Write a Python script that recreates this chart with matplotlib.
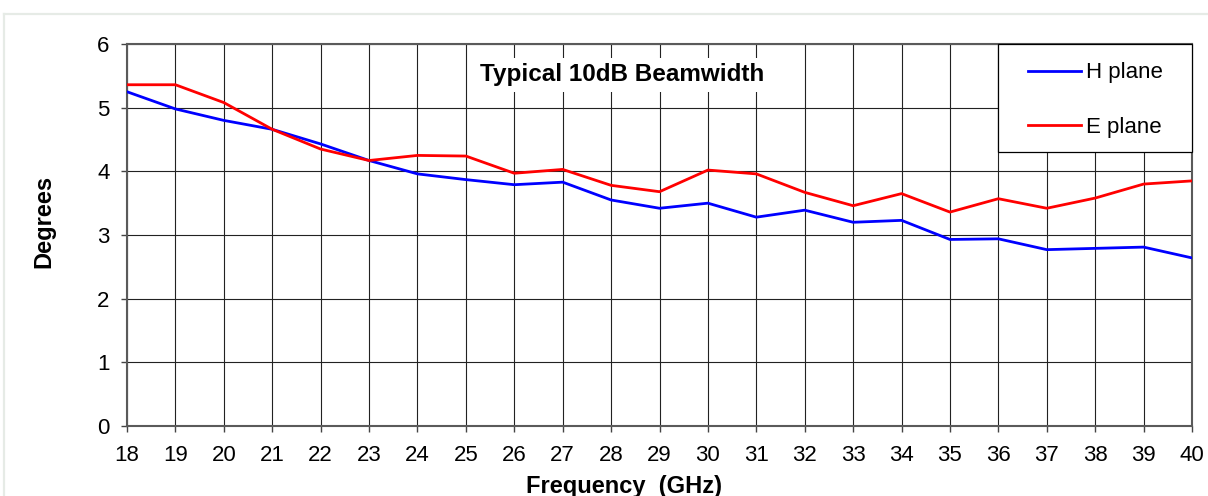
import matplotlib
matplotlib.use("Agg")
import matplotlib.pyplot as plt
from matplotlib.patches import Rectangle
from matplotlib.lines import Line2D

plt.rcParams['font.family'] = ['Liberation Sans', 'DejaVu Sans']

freq = list(range(18, 41))
h_plane = [5.25, 4.98, 4.80, 4.66, 4.43, 4.17, 3.96, 3.87, 3.79, 3.83, 3.55, 3.42,
           3.50, 3.28, 3.39, 3.20, 3.23, 2.93, 2.94, 2.77, 2.79, 2.81, 2.64]
e_plane = [5.36, 5.36, 5.08, 4.66, 4.35, 4.17, 4.25, 4.24, 3.97, 4.03, 3.78, 3.68,
           4.02, 3.96, 3.67, 3.46, 3.65, 3.36, 3.57, 3.42, 3.58, 3.80, 3.85]
x_ticks = list(range(18, 41))
y_ticks = [0, 1, 2, 3, 4, 5, 6]
title = "Typical 10dB Beamwidth"
x_label = "Frequency  (GHz)"
y_label = "Degrees"

W, H = 1208, 496
fig = plt.figure(figsize=(W / 100, H / 100), dpi=100)
fig.patch.set_facecolor('white')

# light outer frame (top and left edges visible)
fig.add_artist(Line2D([4 / W, 1.0], [1 - 14 / H, 1 - 14 / H], color='#e6ebe6', lw=1.6))
fig.add_artist(Line2D([4 / W, 4 / W], [0, 1 - 14 / H], color='#e6ebe6', lw=1.6))

left, right, bottom, top = 127 / W, 1192 / W, 1 - 426 / H, 1 - 44 / H
ax = fig.add_axes([left, bottom, right - left, top - bottom])

ax.plot(freq, h_plane, color='#0000ff', lw=2.0, label='H plane', zorder=5)
ax.plot(freq, e_plane, color='#ff0000', lw=2.0, label='E plane', zorder=5)

ax.set_xlim(18, 40)
ax.set_ylim(0, 6)
ax.set_xticks(x_ticks)
ax.set_yticks(y_ticks)
ax.grid(True, color='#222222', lw=0.8, zorder=1)
ax.set_axisbelow(True)

for s in ax.spines.values():
    s.set_color('#5a5a5a')
    s.set_linewidth(1.5)

ax.tick_params(axis='both', direction='out', length=4.5, width=1, color='#444444',
               labelsize=16, labelcolor='black')
ax.tick_params(axis='x', pad=9.5)
ax.tick_params(axis='y', pad=8)

ax.text((622 - 127) / (1192 - 127), (426 - 75) / (426 - 44), title,
        transform=ax.transAxes, ha='center', va='center', fontsize=17.5,
        fontweight='bold', zorder=4,
        bbox=dict(facecolor='white', edgecolor='none', pad=4))

# legend box
ax.add_patch(Rectangle((0.8178, 0.7173), 0.1822, 0.2827, transform=ax.transAxes,
                       facecolor='white', edgecolor='black', lw=0.9, zorder=6,
                       clip_on=False))
leg = ax.legend(loc='center', bbox_to_anchor=(0.909, 0.8534), frameon=False,
                fontsize=16, handlelength=2.39, handletextpad=0.23,
                labelspacing=1.5, borderpad=0)
leg.set_zorder(7)

fig.text(624 / W, 1 - 493 / H, x_label, ha='center', va='baseline',
         fontsize=17, fontweight='bold')
fig.text(44 / W, 1 - 221 / H, y_label, ha='center', va='center', rotation=90,
         fontsize=17, fontweight='bold')

fig.savefig('out.png', dpi=100, facecolor='white')
